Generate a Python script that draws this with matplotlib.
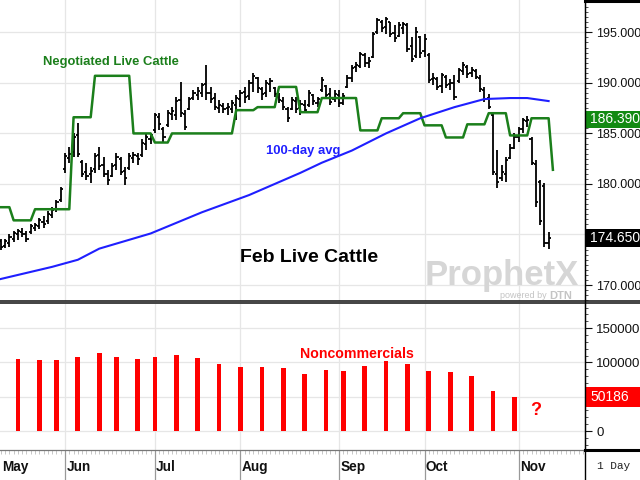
import numpy as np
import pandas as pd
import matplotlib
matplotlib.use("Agg")
import matplotlib.pyplot as plt
import matplotlib.transforms as mtransforms
from matplotlib.patches import Rectangle
from matplotlib.lines import Line2D
from matplotlib.ticker import MultipleLocator, FuncFormatter

# Feb live cattle daily bars, first session May 10 2023
opens = [174.4, 173.9, 174.2, 174.6, 175.0, 175.2, 175.0, 175.2, 175.6, 175.8,
         176.2, 176.3, 176.9, 177.5, 178.4, 181.5, 182.6, 183.2, 184.8, 182.2,
         181.2, 181.0, 181.5, 182.9, 181.9, 181.0, 180.8, 181.9, 182.5, 181.3,
         181.6, 182.6, 182.8, 182.9, 184.0, 184.4, 185.3, 186.6, 185.4, 185.8,
         186.9, 186.8, 188.3, 186.9, 187.4, 188.5, 188.8, 189.0, 189.9, 189.0,
         188.5, 187.5, 187.7, 187.5, 187.4, 187.8, 188.4, 189.1, 188.7, 190.0,
         190.5, 189.4, 189.0, 189.9, 189.5, 188.9, 188.2, 187.4, 187.4, 188.2,
         187.5, 187.8, 187.8, 188.8, 188.0, 189.3, 189.7, 188.9, 188.4, 188.8,
         188.0, 189.6, 190.5, 191.6, 191.7, 192.8, 192.0, 192.6, 195.0, 196.0,
         195.5, 196.0, 194.9, 194.6, 195.4, 195.7, 193.6, 192.7, 194.5, 193.2,
         192.8, 190.4, 190.4, 189.7, 190.6, 189.9, 190.0, 190.2, 191.2, 191.6,
         191.0, 191.2, 190.5, 189.3, 188.5, 186.8, 181.0, 180.6, 181.0, 182.6,
         183.6, 184.6, 185.4, 186.2, 184.4, 182.0, 180.2, 179.8, 174.2]
highs = [174.6, 174.6, 175.0, 175.3, 175.5, 175.6, 175.3, 176.0, 176.1, 176.6,
         176.8, 177.3, 177.7, 178.4, 179.7, 183.1, 183.7, 185.0, 186.0, 182.4,
         182.1, 181.7, 183.1, 183.7, 182.7, 181.4, 182.1, 183.1, 182.7, 181.7,
         183.1, 183.2, 183.1, 184.4, 185.0, 185.0, 187.0, 187.0, 185.6, 187.3,
         187.6, 188.6, 190.1, 187.3, 188.6, 189.3, 189.6, 190.0, 191.8, 189.6,
         189.0, 188.3, 188.0, 188.0, 188.3, 188.8, 189.3, 189.6, 190.3, 191.0,
         190.6, 189.6, 190.3, 190.5, 189.6, 189.0, 188.6, 187.6, 188.6, 188.6,
         188.3, 188.3, 189.3, 188.9, 188.6, 190.6, 189.8, 189.5, 189.3, 189.3,
         189.0, 190.8, 191.8, 192.1, 193.1, 193.0, 192.6, 195.0, 196.4, 196.2,
         196.5, 196.0, 195.7, 196.0, 196.0, 195.9, 194.5, 195.5, 194.6, 194.8,
         193.0, 191.0, 190.6, 191.0, 190.8, 190.4, 190.8, 191.5, 192.1, 191.8,
         191.6, 191.4, 190.8, 189.6, 188.9, 187.0, 183.4, 181.9, 182.7, 184.0,
         185.0, 185.6, 186.5, 186.7, 184.6, 182.4, 180.4, 180.1, 175.2]
lows = [173.5, 173.7, 173.8, 174.3, 174.5, 174.8, 174.3, 175.0, 175.3, 175.5,
        175.6, 176.0, 176.6, 177.2, 178.2, 181.1, 182.1, 182.7, 182.7, 180.7,
        180.4, 180.1, 181.1, 181.4, 180.7, 179.9, 180.7, 181.4, 180.9, 179.9,
        181.4, 182.1, 181.9, 182.7, 183.4, 184.0, 185.0, 185.3, 184.1, 185.6,
        186.3, 186.3, 186.6, 185.3, 187.3, 188.3, 188.3, 188.6, 188.3, 188.0,
        187.3, 187.0, 187.0, 186.8, 187.0, 186.3, 187.6, 188.0, 188.3, 189.1,
        189.0, 188.3, 188.6, 189.1, 188.6, 188.0, 187.3, 186.1, 187.3, 187.0,
        186.8, 187.0, 187.6, 187.8, 187.6, 189.1, 188.5, 187.8, 188.1, 187.6,
        187.8, 189.5, 190.1, 191.1, 191.5, 191.6, 191.5, 192.5, 194.8, 195.0,
        194.8, 194.5, 194.0, 194.5, 194.8, 193.1, 192.1, 192.5, 192.5, 192.6,
        190.0, 189.8, 189.3, 189.0, 189.5, 189.3, 188.3, 190.0, 190.8, 190.5,
        190.6, 190.4, 189.1, 188.1, 187.4, 180.9, 179.6, 180.3, 180.2, 182.5,
        183.5, 184.2, 185.0, 185.6, 181.9, 177.7, 175.9, 173.8, 173.6]
closes = [173.8, 174.4, 174.8, 175.1, 175.3, 175.0, 174.6, 175.8, 175.9, 176.4,
          176.0, 177.0, 177.4, 178.2, 179.5, 182.8, 183.0, 184.6, 183.0, 181.0,
          180.8, 181.3, 182.8, 181.8, 181.0, 180.4, 181.8, 182.7, 181.2, 180.6,
          182.8, 182.9, 182.5, 184.1, 184.6, 184.8, 186.8, 185.9, 184.6, 187.0,
          187.2, 188.2, 187.0, 185.6, 188.4, 189.0, 189.2, 189.8, 189.0, 188.4,
          187.6, 187.8, 187.4, 187.6, 188.0, 188.5, 189.0, 188.6, 190.0, 190.7,
          189.5, 188.9, 190.0, 190.2, 188.9, 188.3, 187.6, 186.5, 188.3, 187.4,
          187.9, 187.3, 189.0, 188.2, 188.4, 190.3, 188.8, 188.1, 188.9, 188.0,
          188.7, 190.5, 191.5, 191.8, 192.9, 192.0, 192.2, 194.8, 196.2, 195.4,
          196.3, 194.8, 194.4, 195.7, 195.8, 193.4, 192.4, 195.0, 193.0, 194.3,
          190.3, 190.5, 189.6, 190.8, 189.8, 190.0, 188.6, 191.3, 191.8, 190.9,
          191.3, 190.6, 189.4, 188.4, 187.6, 181.2, 180.2, 181.2, 182.4, 183.6,
          184.6, 185.4, 186.3, 186.3, 182.1, 178.2, 176.3, 174.2, 174.65]

# weekly negotiated live cattle price, date it takes effect
cash_dates = ["2023-05-10", "2023-05-15", "2023-05-22", "2023-05-30", "2023-06-05",
              "2023-06-12", "2023-06-20", "2023-06-26", "2023-07-03", "2023-07-10",
              "2023-07-17", "2023-07-24", "2023-07-31", "2023-08-07", "2023-08-14",
              "2023-08-21", "2023-08-28", "2023-09-05", "2023-09-11", "2023-09-18",
              "2023-09-25", "2023-10-02", "2023-10-09", "2023-10-16", "2023-10-23",
              "2023-10-30", "2023-11-06", "2023-11-13"]
cash_vals = [177.7, 176.4, 177.5, 177.5, 186.6, 190.7, 190.7, 185.0, 184.1, 185.0,
             185.0, 185.0, 187.3, 187.6, 189.6, 187.1, 188.5, 188.5, 185.3, 186.5,
             187.0, 185.8, 184.6, 185.9, 187.0, 184.8, 186.5, 181.4]

# 100-day moving average
avg_dates = ["2023-05-10", "2023-05-26", "2023-06-06", "2023-06-13", "2023-06-30",
             "2023-07-19", "2023-08-03", "2023-08-21", "2023-08-28", "2023-09-07",
             "2023-09-19", "2023-09-29", "2023-10-11", "2023-10-20", "2023-10-30",
             "2023-11-03", "2023-11-10"]
avg_vals = [170.6, 171.8, 172.5, 173.6, 175.1, 177.2, 178.9, 181.1, 182.1, 183.3,
            185.0, 186.5, 187.6, 188.4, 188.5, 188.5, 188.2]

# CFTC noncommercial net position
cot_dates = ["2023-05-16", "2023-05-23", "2023-05-30", "2023-06-06", "2023-06-13",
             "2023-06-20", "2023-06-27", "2023-07-03", "2023-07-11", "2023-07-18",
             "2023-07-25", "2023-08-01", "2023-08-08", "2023-08-15", "2023-08-22",
             "2023-08-29", "2023-09-05", "2023-09-12", "2023-09-19", "2023-09-26",
             "2023-10-03", "2023-10-10", "2023-10-17", "2023-10-24", "2023-10-31"]
cot_net = [104900, 103400, 103400, 107400, 113800, 108400, 104900, 107400, 110300, 106400,
           97000, 93100, 93100, 91600, 82800, 89200, 88200, 94100, 101500, 97000,
           88200, 86200, 79800, 58600, 50186]
missing_cot = "2023-11-07"

last_price = 174.65
last_cash = 186.39
last_cot = 50186

month_names = ["May", "Jun", "Jul", "Aug", "Sep", "Oct", "Nov"]

holidays = pd.to_datetime(["2023-05-29", "2023-06-19", "2023-07-04", "2023-09-04", "2023-11-23"])
days = pd.bdate_range("2023-05-10", "2023-11-30")
days = days[~days.isin(holidays)]
pos = pd.Series(np.arange(len(days)), index=days)

plt.rcParams["font.family"] = ["Liberation Sans", "DejaVu Sans"]
GREEN = "#1b7f1b"
BLUE = "#1f1fff"
RED = "#ff0000"
GRID = "#e6e6e6"

W, H = 640, 480
fig = plt.figure(figsize=(6.4, 4.8), dpi=100)


def box(x0, y0, x1, y1):
    return [x0 / W, 1 - y1 / H, (x1 - x0) / W, (y1 - y0) / H]


ax = fig.add_axes(box(0, 0, 585, 300.5))
axc = fig.add_axes(box(0, 303.5, 585, 450))
axd = fig.add_axes(box(0, 450, 585, 480))

xlim = (-0.19, 136.5)
month_first = days.to_series().groupby(days.month).first()
month_pos = [0] + [pos[d] for d in month_first.values[1:]]

# ---- price panel ----
idx = np.arange(len(closes))
ax.vlines(idx, lows, highs, color="black", lw=1.3, zorder=3)
ax.hlines(opens, idx - 0.5, idx, color="black", lw=1.3, zorder=3)
ax.hlines(closes, idx, idx + 0.5, color="black", lw=1.3, zorder=3)

cash = pd.Series(cash_vals, index=pd.to_datetime(cash_dates))
cash = cash.reindex(days[:len(closes) + 1]).ffill()
ax.plot(np.arange(len(cash)), cash.values, color=GREEN, lw=1.8, zorder=4)
ax.plot(pos[pd.to_datetime(avg_dates)].values, avg_vals, color=BLUE, lw=1.5, zorder=4)

ax.set_xlim(*xlim)
ax.set_ylim(168.47, 198.2)
ax.yaxis.tick_right()
ax.set_yticks([170, 175, 180, 185, 190, 195])
# the 175 label sits under the last-price tag
ax.yaxis.set_major_formatter(FuncFormatter(lambda v, p: "" if v == 175 else f"{v:.3f}"))
ax.yaxis.set_minor_locator(MultipleLocator(0.5))
ax.set_xticks(month_pos[1:])
ax.tick_params(axis="x", length=0, labelbottom=False)
ax.tick_params(axis="y", which="major", length=5, width=0.8, pad=3, labelsize=9, colors="#111")
ax.tick_params(axis="y", which="minor", length=2.5, width=0.6, colors="#333")
ax.grid(True, color=GRID, lw=0.9)
ax.set_axisbelow(True)
for s in ["left", "top", "bottom"]:
    ax.spines[s].set_visible(False)
ax.spines["right"].set_color("black")


def tag(axis, val, text, color, h):
    tr = mtransforms.blended_transform_factory(axis.transAxes, axis.transData)
    axis.add_patch(Rectangle((1.002, val - h / 2), 0.092, h, transform=tr,
                             facecolor=color, edgecolor="none", clip_on=False, zorder=6))
    axis.text(1.009, val, text, transform=tr, color="white", fontsize=10,
              ha="left", va="center", zorder=7, clip_on=False)


tag(ax, last_cash, f"{last_cash:.3f}", "#128a12", 1.68)
tag(ax, last_price, f"{last_price:.3f}", "black", 1.7)

# ---- noncommercial panel ----
axc.bar(pos[pd.to_datetime(cot_dates)].values, cot_net, width=1.1, color=RED, zorder=3)
axc.text(pos[pd.Timestamp(missing_cot)], 30000, "?", color=RED, fontsize=13,
         fontweight="bold", ha="center", va="center")
axc.set_xlim(*xlim)
axc.set_ylim(-27700, 185900)
axc.yaxis.tick_right()
axc.set_yticks([0, 50000, 100000, 150000])
axc.yaxis.set_major_formatter(FuncFormatter(lambda v, p: "" if v == 50000 else f"{v:.0f}"))
axc.yaxis.set_minor_locator(MultipleLocator(10000))
axc.set_xticks(month_pos[1:])
axc.tick_params(axis="x", length=0, labelbottom=False)
axc.tick_params(axis="y", which="major", length=5, width=0.8, pad=3, labelsize=9.5, colors="#111")
axc.tick_params(axis="y", which="minor", length=2.5, width=0.6, colors="#333")
axc.grid(True, color=GRID, lw=0.9)
axc.set_axisbelow(True)
for s in ["left", "top", "bottom"]:
    axc.spines[s].set_visible(False)
axc.spines["right"].set_color("black")
tag(axc, last_cot, f"{last_cot}", RED, 29000)

# ---- date strip ----
axd.set_xlim(*xlim)
axd.set_ylim(0, 1)
axd.axis("off")
axd.vlines(np.arange(0, 137), 0.86, 1.0, color="#b0b0b0", lw=0.5)
axd.vlines(month_pos[1:], 0, 1, color="#999999", lw=0.9)
for p, name in zip(month_pos, month_names):
    axd.text(p + 0.3, 0.42, name, fontsize=9.8, fontweight="bold",
             ha="left", va="center", color="#111")

# ---- frame lines ----
def fline(x0, x1, y, color, lw):
    fig.add_artist(Line2D([x0 / W, x1 / W], [1 - y / H, 1 - y / H], color=color, lw=lw,
                          transform=fig.transFigure))


fline(0, 640, 301.2, "#222222", 1.2)
fline(0, 640, 303.4, "#222222", 1.2)
fline(0, 585, 450.3, "#777777", 0.9)
fline(585, 640, 450.3, "black", 2.2)
fline(585, 640, 0.8, "black", 2.2)
fig.add_artist(Line2D([585 / W, 585 / W], [0, 1], color="black", lw=1.0, transform=fig.transFigure))
fig.text(597 / W, 1 - 466 / H, "1 Day", fontsize=8, family=["Liberation Mono", "DejaVu Sans Mono"],
         color="#222", ha="left", va="center")

# ---- annotations ----
fig.text(43 / W, 1 - 62 / H, "Negotiated Live Cattle", color=GREEN, fontsize=9.4,
         fontweight="bold", va="center")
fig.text(266 / W, 1 - 151 / H, "100-day avg", color=BLUE, fontsize=9.4,
         fontweight="bold", va="center")
fig.text(240 / W, 1 - 258 / H, "Feb Live Cattle", color="black", fontsize=14,
         fontweight="bold", va="center")
fig.text(300 / W, 1 - 354 / H, "Noncommercials", color=RED, fontsize=10.2,
         fontweight="bold", va="center")

# watermark
fig.text(425 / W, 1 - 275 / H, "ProphetX", fontsize=25, fontweight="bold",
         color="#d6d6d6", ha="left", va="center")
fig.text(500 / W, 1 - 296 / H, "powered by", fontsize=6.5, color="#c4c4c4",
         ha="left", va="center")
fig.text(549 / W, 1 - 296 / H, "DTN", fontsize=8, fontweight="bold", color="#c4c4c4",
         ha="left", va="center")

fig.savefig("out.png", dpi=100)
